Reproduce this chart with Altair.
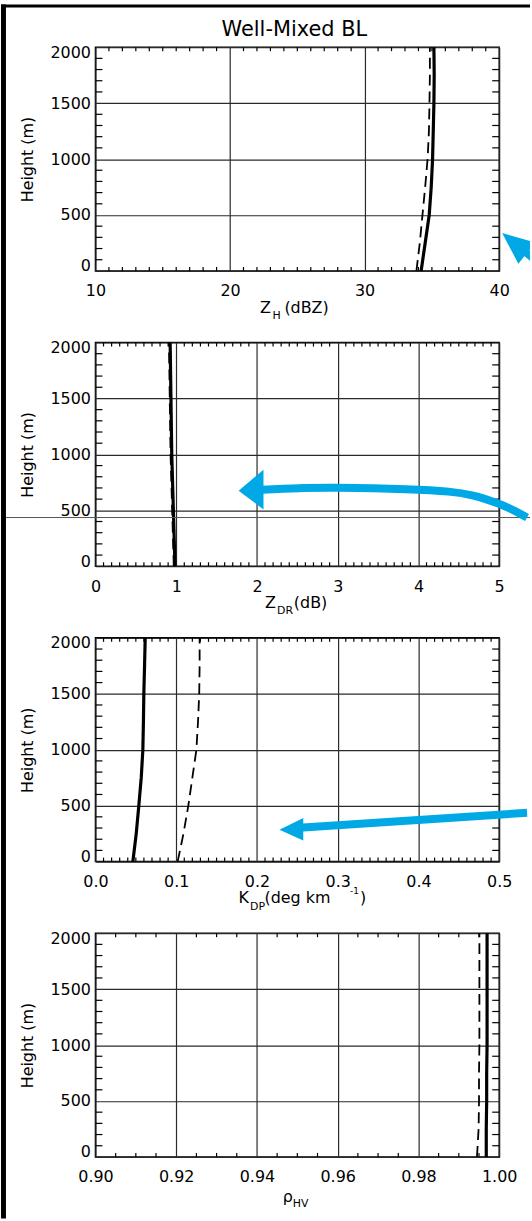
import altair as alt
import pandas as pd

# ---------------- values ----------------
HEIGHTS = [0, 250, 500, 750, 1000, 1250, 1500, 1750, 2000]

ZH_SOLID = [34.20, 34.50, 34.80, 34.95, 35.05, 35.10, 35.15, 35.17, 35.15]
ZH_DASH = [33.85, 34.10, 34.30, 34.50, 34.68, 34.78, 34.82, 34.85, 34.85]

ZDR_SOLID = [0.985, 0.975, 0.965, 0.955, 0.945, 0.940, 0.935, 0.930, 0.925]
ZDR_DASH = [0.970, 0.960, 0.950, 0.940, 0.930, 0.925, 0.920, 0.915, 0.910]

KDP_SOLID = [0.0463, 0.0505, 0.0537, 0.0567, 0.0587, 0.0594, 0.0599, 0.0608, 0.0616]
KDP_DASH = [0.1018, 0.1090, 0.1150, 0.1200, 0.1250, 0.1270, 0.1285, 0.1290, 0.1290]

RHV_SOLID = [0.9968, 0.9968, 0.9969, 0.9969, 0.9970, 0.9970, 0.9970, 0.9970, 0.9970]
RHV_DASH = [0.9945, 0.9949, 0.9950, 0.9950, 0.9951, 0.9951, 0.9951, 0.9951, 0.9951]

Y_MAJOR = [0, 500, 1000, 1500, 2000]
ZH_TICKS = [10, 20, 30, 40]
ZDR_TICKS = [0, 1, 2, 3, 4, 5]
KDP_TICKS = [0.0, 0.1, 0.2, 0.3, 0.4, 0.5]
RHV_TICKS = [0.90, 0.92, 0.94, 0.96, 0.98, 1.00]

# blue annotation arrows, in the data units of their panels
ARROW1_TIP = [40.22, 338]
ARROW2_SHAFT_X = [2.057, 2.525, 3.005, 3.842, 4.372, 4.680, 4.988, 5.172, 5.345]
ARROW2_SHAFT_H = [684, 698, 702, 689, 667, 631, 560, 502, 436]
ARROW2_TIP = [1.773, 676]
ARROW3_SHAFT_X = [0.2525, 0.5345]
ARROW3_SHAFT_H = [302, 436]
ARROW3_TIP = [0.2278, 284]

# ---------------- styling ----------------
W, H = 406, 225
FONT = "DejaVu Sans"
BLUE = "#00A9E6"
GRID = "#2a2a2a"
ONE = pd.DataFrame({"k": [0]})


def minor(lo, hi, step, major):
    n = int(round((hi - lo) / step))
    out = []
    for i in range(1, n):
        v = round(lo + i * step, 6)
        r = (v - lo) / major
        if abs(r - round(r)) > 1e-6:
            out.append(v)
    return out


Y_MINOR = [v for v in range(100, 2000, 100) if v % 500]


def text_layer(s, x, y, size=16, align="left"):
    return alt.Chart(pd.DataFrame({"s": [s]})).mark_text(
        font=FONT, fontSize=size, align=align, baseline="middle", color="black"
    ).encode(text="s:N", x=alt.value(x), y=alt.value(y))


def arrow_shaft(xv, hv, width):
    def f(xs, ys):
        df = pd.DataFrame({"ax": xv, "ah": hv, "o": list(range(len(xv)))})
        return alt.Chart(df).mark_line(
            color=BLUE, strokeWidth=width, strokeCap="butt", strokeJoin="round",
            interpolate="cardinal"
        ).encode(
            x=alt.X("ax:Q", scale=xs),
            y=alt.Y("ah:Q", scale=ys),
            order="o:Q",
        )
    return f


def arrow_head(tip, path):
    def f(xs, ys):
        df = pd.DataFrame({"ax": [tip[0]], "ah": [tip[1]]})
        return alt.Chart(df).mark_point(
            shape=path, size=4, filled=True, color=BLUE, opacity=1, strokeWidth=0
        ).encode(
            x=alt.X("ax:Q", scale=xs),
            y=alt.Y("ah:Q", scale=ys),
        )
    return f


def panel(solid, dash, dom, majors, fmt, step, major_step, titles, extra=()):
    xs = alt.Scale(domain=dom, nice=False, zero=False)
    ys = alt.Scale(domain=[0, 2000], nice=False, zero=False)
    prof = pd.DataFrame({"h": HEIGHTS, "solid": solid, "dash": dash})
    xaxis = alt.Axis(values=majors, format=fmt, grid=True, ticks=False, tickSize=0,
                     domain=False, title=None, labelFlush=False, labelOverlap=False,
                     labelPadding=12)
    yaxis = alt.Axis(values=Y_MAJOR, format="d", grid=True, ticks=False, tickSize=0,
                     domain=False, title="Height (m)", titleAngle=270, titleX=-68,
                     titleY=H / 2, titleAlign="center", titleBaseline="middle",
                     labelFlush=True, labelFlushOffset=3, labelOverlap=False,
                     labelPadding=5)
    solid_l = alt.Chart(prof).mark_line(color="black", strokeWidth=3.2).encode(
        x=alt.X("solid:Q", scale=xs, axis=xaxis),
        y=alt.Y("h:Q", scale=ys, axis=yaxis),
        order="h:Q",
    )
    dash_l = alt.Chart(prof).mark_line(color="black", strokeWidth=1.8, strokeDash=[11, 6]).encode(
        x=alt.X("dash:Q", scale=xs),
        y=alt.Y("h:Q", scale=ys),
        order="h:Q",
    )
    xm = pd.DataFrame({"t": minor(dom[0], dom[1], step, major_step)})
    ym = pd.DataFrame({"t": Y_MINOR})
    tk = dict(color="black", strokeWidth=1.2)
    xb = alt.Chart(xm).mark_rule(**tk).encode(
        x=alt.X("t:Q", scale=xs), y=alt.value(H), y2=alt.value(H - 4))
    xt = alt.Chart(xm).mark_rule(**tk).encode(
        x=alt.X("t:Q", scale=xs), y=alt.value(0), y2=alt.value(4))
    yl = alt.Chart(ym).mark_rule(**tk).encode(
        y=alt.Y("t:Q", scale=ys), x=alt.value(0), x2=alt.value(7))
    yr = alt.Chart(ym).mark_rule(**tk).encode(
        y=alt.Y("t:Q", scale=ys), x=alt.value(W - 7), x2=alt.value(W))
    layers = [solid_l, dash_l, xb, xt, yl, yr] + list(titles)
    for e in extra:
        layers.append(e(xs, ys) if callable(e) else e)
    return alt.layer(*layers).properties(width=W, height=H)


strips = [
    alt.Chart(ONE).mark_rect(color="black").encode(
        x=alt.value(-95), x2=alt.value(-90), y=alt.value(-43), y2=alt.value(1178)),
    alt.Chart(ONE).mark_rect(color="black").encode(
        x=alt.value(-95), x2=alt.value(437), y=alt.value(-43), y2=alt.value(-40)),
]

p1 = panel(
    ZH_SOLID, ZH_DASH, [10, 40], ZH_TICKS, "d", 1, 10,
    [text_layer("Well-Mixed BL", 200, -17, 21, "center"),
     text_layer("Z", 176.5, 262, 16, "right"),
     text_layer("H", 178, 270.5, 11),
     text_layer("(dBZ)", 190, 262, 16)],
    extra=strips + [arrow_head(ARROW1_TIP,
                               "M0,0 L16.3,30.7 L28,16.2 L28,8 Z M22.4,23.2 L27.4,17 L28,17.5 L28,27.7 Z")],
)

p2 = panel(
    ZDR_SOLID, ZDR_DASH, [0, 5], ZDR_TICKS, "d", 0.1, 1,
    [text_layer("Z", 181.5, 262, 16, "right"),
     text_layer("DR", 182.6, 270.5, 11),
     text_layer("(dB)", 199.5, 262, 16)],
    extra=[alt.Chart(ONE).mark_rule(color="#555", strokeWidth=1).encode(
        x=alt.value(-90), x2=alt.value(437), y=alt.value(176)),
        arrow_shaft(ARROW2_SHAFT_X, ARROW2_SHAFT_H, 8),
        arrow_head(ARROW2_TIP, "M0,0 L25,-21 L25,19 Z")],
)

p3 = panel(
    KDP_SOLID, KDP_DASH, [0, 0.5], KDP_TICKS, ".1f", 0.01, 0.1,
    [text_layer("K", 154.4, 262, 16, "right"),
     text_layer("DP", 155.4, 270.5, 11),
     text_layer("(deg km", 170, 262, 16),
     text_layer("-1", 256, 255, 9),
     text_layer(")", 266, 262, 16)],
    extra=[arrow_shaft(ARROW3_SHAFT_X, ARROW3_SHAFT_H, 8),
           arrow_head(ARROW3_TIP, "M0,0 L24,-12 L24,10.7 Z")],
)

p4 = panel(
    RHV_SOLID, RHV_DASH, [0.90, 1.00], RHV_TICKS, ".2f", 0.005, 0.02,
    [text_layer("ρ", 198.5, 265, 16, "right"),
     text_layer("HV", 198.5, 272, 11)],
)

chart = alt.vconcat(p1, p2, p3, p4, spacing=72, bounds="flush").properties(
    padding=0, background="white"
).configure_view(
    stroke="black", strokeWidth=1.5
).configure_axis(
    labelFont=FONT, labelFontSize=16, labelColor="black",
    titleFont=FONT, titleFontSize=16, titleColor="black", titleFontWeight="normal",
    gridColor=GRID, gridWidth=1.2, gridOpacity=1,
)

chart.save("out.html", embed_options={"renderer": "svg", "actions": False})
